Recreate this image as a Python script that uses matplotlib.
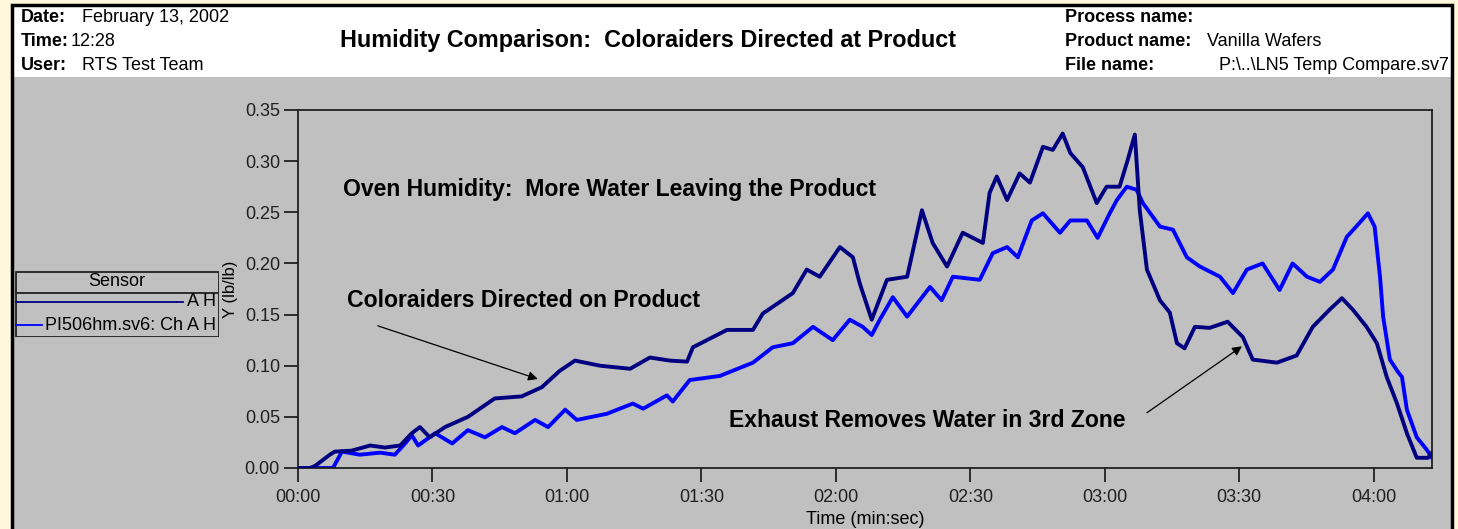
import matplotlib
matplotlib.use("Agg")
import matplotlib.pyplot as plt
from matplotlib.patches import Rectangle
from matplotlib.ticker import FuncFormatter, MultipleLocator

plt.rcParams['font.family'] = ['Liberation Sans', 'DejaVu Sans']

# --- data (time in seconds, humidity in lb/lb) ---
ah_time = [0, 2.7, 3.8, 7.1, 8.2, 12.0, 16.1, 19.4, 22.8, 25.4, 27.2, 29.4, 32.8,
           37.9, 43.9, 49.9, 54.4, 58.4, 61.8, 67.4, 74.1, 78.5, 83.0, 86.8, 88.1,
           95.7, 101.5, 103.7, 110.4, 113.5, 116.4, 120.9, 123.8, 125.3, 128.0,
           131.4, 135.9, 139.2, 141.6, 144.8, 148.3, 152.8, 154.3, 155.9, 158.2,
           161.0, 163.3, 166.2, 168.4, 170.6, 172.3, 175.1, 178.2, 180.4, 183.3,
           185.1, 186.7, 187.8, 189.4, 192.3, 194.5, 196.1, 197.8, 200.1, 203.4,
           207.4, 210.8, 213.0, 218.4, 222.8, 226.4, 230.2, 232.9, 235.3, 238.4,
           240.7, 242.9, 245.2, 247.4, 249.6, 252.1, 253.0]
ah_value = [0, 0, 0.002, 0.013, 0.016, 0.017, 0.022, 0.020, 0.022, 0.034, 0.040,
            0.030, 0.040, 0.050, 0.068, 0.070, 0.079, 0.095, 0.105, 0.100, 0.097,
            0.108, 0.105, 0.104, 0.118, 0.135, 0.135, 0.151, 0.171, 0.194, 0.187,
            0.216, 0.206, 0.181, 0.145, 0.184, 0.187, 0.252, 0.220, 0.197, 0.230,
            0.220, 0.269, 0.285, 0.262, 0.288, 0.279, 0.314, 0.311, 0.327, 0.308,
            0.294, 0.259, 0.275, 0.275, 0.301, 0.326, 0.252, 0.194, 0.164, 0.152,
            0.122, 0.117, 0.138, 0.137, 0.143, 0.128, 0.106, 0.103, 0.110, 0.138,
            0.155, 0.166, 0.155, 0.138, 0.122, 0.089, 0.063, 0.034, 0.010, 0.010,
            0.015]

pi_time = [0, 7.8, 9.8, 13.8, 18.3, 21.6, 23.9, 25.4, 26.8, 30.6, 34.4, 37.9,
           41.7, 45.5, 48.4, 52.9, 55.8, 59.6, 62.2, 68.9, 74.7, 77.0, 82.3, 83.6,
           87.4, 94.1, 101.5, 105.9, 110.4, 114.9, 119.3, 123.1, 126.0, 128.0,
           129.8, 132.7, 135.9, 141.0, 143.6, 146.1, 152.1, 155.0, 158.2, 160.6,
           163.7, 166.2, 170.0, 172.3, 176.0, 178.4, 181.1, 182.7, 184.9, 187.1,
           188.5, 192.3, 195.2, 198.3, 201.2, 205.7, 208.6, 211.7, 215.2, 219.0,
           221.9, 225.1, 228.0, 230.9, 234.0, 236.9, 238.7, 240.2, 241.4, 242.1,
           243.6, 245.4, 246.3, 247.4, 249.6, 251.8, 253.0]
pi_value = [0, 0, 0.016, 0.013, 0.015, 0.013, 0.024, 0.032, 0.022, 0.034, 0.024,
            0.037, 0.030, 0.040, 0.034, 0.047, 0.040, 0.057, 0.047, 0.053, 0.063,
            0.058, 0.071, 0.065, 0.086, 0.090, 0.103, 0.118, 0.122, 0.138, 0.125,
            0.145, 0.138, 0.130, 0.145, 0.167, 0.148, 0.177, 0.164, 0.187, 0.184,
            0.210, 0.216, 0.206, 0.242, 0.249, 0.230, 0.242, 0.242, 0.225, 0.249,
            0.262, 0.275, 0.272, 0.259, 0.236, 0.233, 0.206, 0.197, 0.187, 0.171,
            0.194, 0.200, 0.174, 0.200, 0.187, 0.182, 0.194, 0.226, 0.240, 0.249,
            0.236, 0.187, 0.148, 0.106, 0.094, 0.089, 0.057, 0.030, 0.018, 0.010]

series_labels = ["A H", "PI506hm.sv6: Ch A H"]
series_colors = ["#000080", "#0000FF"]

header_left = [("Date:", "February 13, 2002"), ("Time:", "12:28"), ("User:", "RTS Test Team")]
header_right = [("Process name:", ""), ("Product name:", "Vanilla Wafers"),
                ("File name:", "P:\\..\\LN5 Temp Compare.sv7")]
title = "Humidity Comparison:  Coloraiders Directed at Product"

W, H = 1458, 529
GREY = "#C0C0C0"


def fx(x):
    return x / W


def fy(y):
    return 1 - y / H


fig = plt.figure(figsize=(W / 100, H / 100), dpi=100, facecolor="#FFF8DC")

# frame: white header strip, grey body, black outline
fig.patches.append(Rectangle((fx(12), fy(529)), fx(1440), 452 / H, transform=fig.transFigure,
                             facecolor=GREY, edgecolor="none", zorder=-5))
fig.patches.append(Rectangle((fx(12), fy(77)), fx(1440), 72 / H, transform=fig.transFigure,
                             facecolor="white", edgecolor="none", zorder=-5))
fig.patches.append(Rectangle((fx(12), fy(535)), fx(1440), 530 / H, transform=fig.transFigure,
                             facecolor="none", edgecolor="black", lw=2.5, zorder=-4))

# header text
hs = 13
row_y = [18, 42, 65]
left_val_x = [82, 71, 82]
for (lab, val), y, vx in zip(header_left, row_y, left_val_x):
    fig.text(fx(21), fy(y), lab, fontsize=hs, fontweight="bold", va="center")
    fig.text(fx(vx), fy(y), val, fontsize=hs, va="center")
for (lab, val), y in zip(header_right, row_y):
    fig.text(fx(1065), fy(y), lab, fontsize=hs, fontweight="bold", va="center")
    if lab == "File name:":
        fig.text(fx(1449), fy(y), val, fontsize=hs, va="center", ha="right")
    else:
        fig.text(fx(1207), fy(y), val, fontsize=hs, va="center")

fig.text(fx(648), fy(40), title, fontsize=16.8, fontweight="bold", ha="center", va="center")

# main plot
ax = fig.add_axes([fx(298), fy(468), fx(1432 - 298), (468 - 110) / H])
ax.set_facecolor(GREY)
ax.plot(pi_time, pi_value, color=series_colors[1], lw=2.8, zorder=2)
ax.plot(ah_time, ah_value, color=series_colors[0], lw=2.8, zorder=3)

ax.set_xlim(0, 253)
ax.set_ylim(0, 0.35)
ax.xaxis.set_major_locator(MultipleLocator(30))
ax.yaxis.set_major_locator(MultipleLocator(0.05))
ax.xaxis.set_major_formatter(FuncFormatter(lambda v, p: f"{int(v) // 60:02d}:{int(v) % 60:02d}"))
ax.yaxis.set_major_formatter(FuncFormatter(lambda v, p: f"{v:.2f}"))
ax.tick_params(direction="out", length=10, width=1.3, labelsize=13, colors="#202020", pad=3)
ax.tick_params(axis="x", pad=5)
for s in ax.spines.values():
    s.set_color("#202020")
    s.set_linewidth(1.3)

fig.text(fx(865), fy(519), "Time (min:sec)", fontsize=13, ha="center", va="center")
fig.text(fx(230), fy(289), "Y (lb/lb)", fontsize=12, ha="center", va="center", rotation=90)

# annotations
note_fs = 16.6
ax.text(10.0, 0.272, "Oven Humidity:  More Water Leaving the Product", fontsize=note_fs,
        fontweight="bold", va="center")
ax.text(10.9, 0.164, "Coloraiders Directed on Product", fontsize=note_fs, fontweight="bold",
        va="center")
ax.text(96.1, 0.046, "Exhaust Removes Water in 3rd Zone", fontsize=note_fs, fontweight="bold",
        va="center")
arrow = dict(arrowstyle="-|>", color="black", lw=0.9, mutation_scale=14, shrinkA=0, shrinkB=0)
ax.annotate("", xy=(53.5, 0.087), xytext=(17.8, 0.139), arrowprops=arrow)
ax.annotate("", xy=(210.6, 0.119), xytext=(189.4, 0.054), arrowprops=arrow)

# sensor legend box
lg = fig.add_axes([fx(15), fy(337), fx(204), 66 / H])
lg.set_xlim(0, 204)
lg.set_ylim(66, 0)
lg.axis("off")
lg.add_patch(Rectangle((0.5, 0.5), 203, 65, facecolor="none", edgecolor="#202020", lw=1.3))
lg.plot([0.5, 203.5], [22, 22], color="#202020", lw=1.3)
lg.text(102, 11, "Sensor", fontsize=13, ha="center", va="center")
lg.plot([1, 168], [31, 31], color=series_colors[0], lw=1.3)
lg.text(201, 31, series_labels[0], fontsize=13, ha="right", va="center")
lg.plot([1, 27], [54, 54], color=series_colors[1], lw=1.3)
lg.text(201, 54, series_labels[1], fontsize=13, ha="right", va="center")

fig.savefig("out.png", dpi=100, facecolor=fig.get_facecolor())
